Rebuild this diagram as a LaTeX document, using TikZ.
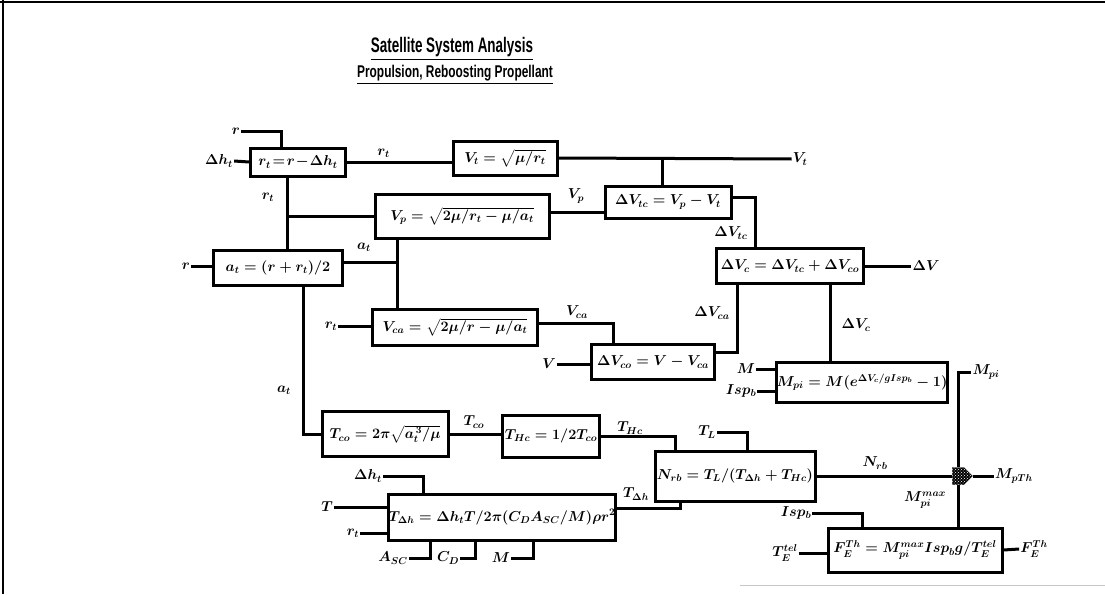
\documentclass[tikz,border=0pt]{standalone}
\usepackage{amsmath}
\usepackage{fontspec}
\newfontfamily\titlefont{Liberation Sans}
\usetikzlibrary{positioning,patterns,shapes.symbols}
\tikzset{
  eqbox/.style={draw,line width=3pt,inner sep=0pt,font=\fontsize{14.5}{17}\selectfont\boldmath},
  lbl/.style={inner sep=1pt,font=\fontsize{14.5}{17}\selectfont\boldmath},
  wire/.style={line width=3pt},
  jnode/.style={signal,signal to=east,draw,fill=black,minimum width=20pt,minimum height=17pt,inner sep=0pt,
    postaction={pattern=crosshatch dots,pattern color=white}}
}
\begin{document}
\begin{tikzpicture}[x=1pt,y=-1pt]
\useasboundingbox (0,0) rectangle (1105,594);
% frame
\draw[line width=1.8pt] (0,2) -- (1105,2);
\draw[line width=1.4pt] (3,0) -- (3,594);
\draw[gray!45,line width=1pt] (740,585) -- (1105,585);
% title
\node[font=\titlefont\bfseries\fontsize{21}{23}\selectfont] (title) at (452,49) {\scalebox{0.64}[1]{\underline{Satellite System Analysis}}};
\node[font=\titlefont\bfseries\fontsize{17}{20}\selectfont] (subtitle) at (455,75) {\scalebox{0.7}[1]{\underline{Propulsion, Reboosting Propellant}}};

% equation boxes
\node[eqbox,minimum width=95pt,minimum height=28pt,font=\fontsize{14}{16}\selectfont\boldmath] (rt) at (298,162) {$r_t\! =\! r\! -\! \Delta h_t$};
\node[eqbox,minimum width=104pt,minimum height=34pt] (Vt) at (505,158) {$V_t = \sqrt{\mu/r_t}$};
\node[eqbox,minimum width=174pt,minimum height=44pt] (Vp) at (462,216) {$V_p = \sqrt{2\mu/r_t - \mu/a_t}$};
\node[eqbox,minimum width=126pt,minimum height=32pt] (dVtc) at (668,202) {$\Delta V_{tc} = V_p - V_t$};
\node[eqbox,minimum width=129pt,minimum height=35pt] (at) at (278,268) {$a_t = (r + r_t)/2$};
\node[eqbox,minimum width=165pt,minimum height=36pt] (Vca) at (455,327) {$V_{ca} = \sqrt{2\mu/r - \mu/a_t}$};
\node[eqbox,minimum width=147pt,minimum height=35pt] (dVc) at (790,266) {$\Delta V_c = \Delta V_{tc} + \Delta V_{co}$};
\node[eqbox,minimum width=123pt,minimum height=35pt] (dVco) at (653,362) {$\Delta V_{co} = V - V_{ca}$};
\node[eqbox,minimum width=170pt,minimum height=40pt] (Mpi) at (862,382) {$M_{pi} = M(e^{\Delta V_c/gIsp_b} - 1)$};
\node[eqbox,minimum width=126pt,minimum height=45pt] (Tco) at (385,434) {$T_{co} = 2\pi\sqrt{a_t^{\,3}/\mu}$};
\node[eqbox,minimum width=97pt,minimum height=42pt] (THc) at (551,436) {$T_{Hc} = 1/2T_{co}$};
\node[eqbox,minimum width=160pt,minimum height=50pt] (Nrb) at (735,476) {$N_{rb} = T_L/(T_{\Delta h} + T_{Hc})$};
\node[eqbox,minimum width=220pt,minimum height=46pt] (TDh) at (502,517) {$T_{\Delta h} = \Delta h_t T/2\pi(C_D A_{SC}/M)\rho r^2$};
\node[eqbox,minimum width=174pt,minimum height=44pt] (FE) at (915,550) {$F_E^{Th} = M_{pi}^{max}Isp_b g/T_E^{tel}$};
\node[jnode] (jn) at (958,476) {};

% inputs and outputs
\node[lbl] (rin) at (236,131) {$r$};
\node[lbl] (dhin) at (219,161) {$\Delta h_t$};
\node[lbl] (Vtout) at (800,159) {$V_t$};
\node[lbl] (rin2) at (186,266) {$r$};
\node[lbl] (rin3) at (331,326) {$r_t$};
\node[lbl] (Vin) at (549,364) {$V$};
\node[lbl] (dVout) at (926,266) {$\Delta V$};
\node[lbl] (Min) at (746,369) {$M$};
\node[lbl] (Ispin) at (741,391) {$Isp_b$};
\node[lbl] (Mpiout) at (986,372) {$M_{pi}$};
\node[lbl] (MpThout) at (1014,476) {$M_{pTh}$};
\node[lbl] (TLin) at (707,432) {$T_L$};
\node[lbl] (dhin2) at (368,476) {$\Delta h_t$};
\node[lbl] (Tin) at (327,507) {$T$};
\node[lbl] (rin4) at (353,533) {$r_t$};
\node[lbl] (Ain) at (393,558) {$A_{SC}$};
\node[lbl] (CDin) at (448,558) {$C_D$};
\node[lbl] (Min2) at (501,558) {$M$};
\node[lbl] (Ispin2) at (796,513) {$Isp_b$};
\node[lbl] (TEin) at (785,553) {$T_E^{tel}$};
\node[lbl] (FEout) at (1034,549) {$F_E^{Th}$};

% connectors
\draw[wire] (rin.east) -| ([xshift=-17pt]rt.north);
\draw[wire] (dhin.east) -- (rt.west);
\draw[wire] (rt.east) -- (rt.east -| Vt.west) node[lbl,pos=0.35,above=2pt] {$r_t$};
\draw[wire] (Vt.east) -- (Vtout.west);
\draw[wire] ([xshift=-6pt]dVtc.north) -- ([xshift=-6pt]dVtc.north |- Vt.east);
\draw[wire] ([xshift=-11pt]rt.south) -- ([xshift=-11pt]rt.south |- at.north);
\node[lbl] at (268,197) {$r_t$};
\draw[wire] ([xshift=-11pt]rt.south |- Vp.west) -- (Vp.west);
\draw[wire] ([yshift=-10pt]dVtc.west) -- ([yshift=-10pt]dVtc.west -| Vp.east);
\node[lbl] at (576,196) {$V_p$};
\draw[wire] ([yshift=5pt]dVtc.east) -| ([xshift=-35pt]dVc.north);
\node[lbl] at (731,233) {$\Delta V_{tc}$};
\draw[wire] (dVc.east) -- (dVout.west);
\draw[wire] ([xshift=-53pt]dVc.south) |- ([yshift=10pt]dVco.east);
\node[lbl] at (712,313) {$\Delta V_{ca}$};
\draw[wire] ([xshift=40pt]dVc.south) -- ([xshift=40pt]dVc.south |- Mpi.north);
\node[lbl] at (856,325) {$\Delta V_c$};
\draw[wire] (rin2.east) -- (rin2.east -| at.west);
\coordinate (aj) at ([xshift=-65pt]Vp.south |- at.east);
\draw[wire] ([yshift=6pt]at.east) -- ([yshift=6pt]aj);
\draw[wire] ([xshift=-65pt]Vp.south) -- ([xshift=-65pt]Vp.south |- Vca.north);
\node[lbl] at (364,247) {$a_t$};
\draw[wire] ([xshift=25pt]at.south) |- (Tco.west);
\node[lbl] at (284,390) {$a_t$};
\draw[wire] (rin3.east) -- (rin3.east -| Vca.west);
\draw[wire] ([yshift=4pt]Vca.east) -| ([xshift=-40pt]dVco.north);
\node[lbl] at (577,312) {$V_{ca}$};
\draw[wire] (Vin.east) -- (Vin.east -| dVco.west);
\draw[wire] (Min.east) -- (Min.east -| Mpi.west);
\draw[wire] (Ispin.east) -- (Ispin.east -| Mpi.west);
\draw[wire] ([xshift=8pt]Mpi.east |- Mpiout.west) -- (Mpiout.west);
\draw[wire] (jn.north) -- (jn.north |- Mpiout.west);
\draw[wire] (Nrb.east) -- (jn.west);
\node[lbl] at (875,463) {$N_{rb}$};
\draw[wire] (jn.east) -- (MpThout.west);
\draw[wire] (jn.south) -- (jn.south |- FE.north);
\node[lbl] at (925,500) {$M_{pi}^{max}$};
\draw[wire] (Ispin2.east) -| ([xshift=-53pt]FE.north);
\draw[wire] (TEin.east) -- (TEin.east -| FE.west);
\draw[wire] (FE.east) -- (FEout.west);
\draw[wire] (Tco.east) -- (Tco.east -| THc.west);
\node[lbl] at (474,422) {$T_{co}$};
\draw[wire] (THc.east) -| ([xshift=-60pt]Nrb.north);
\node[lbl] at (630,428) {$T_{Hc}$};
\draw[wire] (TLin.east) -| ([xshift=12pt]Nrb.north);
\draw[wire] ([yshift=9pt]TDh.east) -| ([xshift=-55pt]Nrb.south);
\node[lbl] at (636,494) {$T_{\Delta h}$};
\draw[wire] (dhin2.east) -| ([xshift=-79pt]TDh.north);
\draw[wire] (Tin.east) -- (Tin.east -| TDh.west);
\draw[wire] (rin4.east) -- (rin4.east -| TDh.west);
\draw[wire] (Ain.east) -| ([xshift=-72pt]TDh.south);
\draw[wire] (CDin.east) -| ([xshift=-27pt]TDh.south);
\draw[wire] (Min2.east) -| ([xshift=31pt]TDh.south);
\end{tikzpicture}
\end{document}
